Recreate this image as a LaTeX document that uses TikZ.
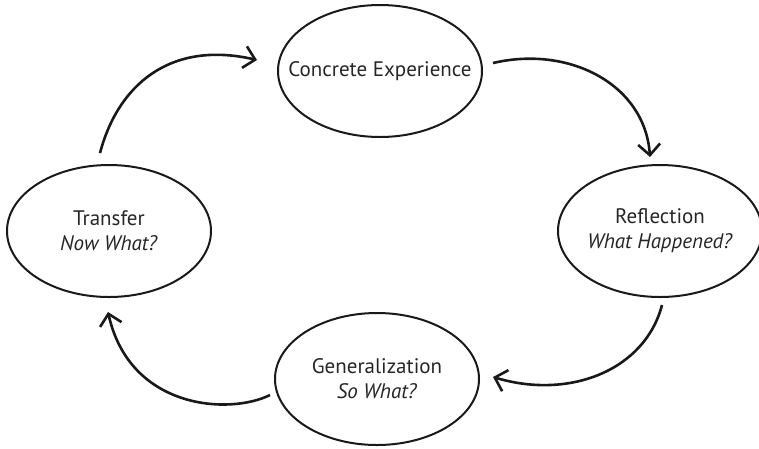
\documentclass[tikz,border=0pt]{standalone}
\usepackage{fontspec}
\setmainfont{PT Sans}
\usetikzlibrary{shapes.geometric,arrows.meta}
\begin{document}
\begin{tikzpicture}[x=1pt,y=-1pt,
  stage/.style={ellipse,draw=black!90,line width=2pt,minimum width=204pt,minimum height=132pt,inner xsep=-50pt,inner ysep=0pt,align=center,text=black!85,font=\fontsize{21}{25}\selectfont},
  cyc/.style={line width=2.6pt,draw=black!90,-{Straight Barb[length=11pt,width=22pt,line width=2.6pt]}}]
\useasboundingbox (0,0) rectangle (759,448);
\node[stage] (ce) at (380,71) {Concrete Experience};
\node[stage] (refl) at (660,231) {Reflection\\\textit{What Happened?}};
\node[stage] (gen) at (377,379) {Generalization\\\textit{So What?}};
\node[stage] (tr) at (109,231) {Transfer\\\textit{Now What?}};
\coordinate (a1s) at (100,153);
\coordinate (a1e) at (257,60);
\coordinate (a2s) at (493,63);
\coordinate (a2e) at (650,157);
\coordinate (a3s) at (662,305);
\coordinate (a3e) at (493,377);
\coordinate (a4s) at (270,395);
\coordinate (a4e) at (108,312);
\draw[cyc] (a1s) .. controls (118,85) and (170,40) .. (a1e);
\draw[cyc] (a2s) .. controls (570,45) and (645,85) .. (a2e);
\draw[cyc] (a3s) .. controls (645,370) and (570,400) .. (a3e);
\draw[cyc] (a4s) .. controls (230,415) and (130,410) .. (a4e);
\end{tikzpicture}
\end{document}
